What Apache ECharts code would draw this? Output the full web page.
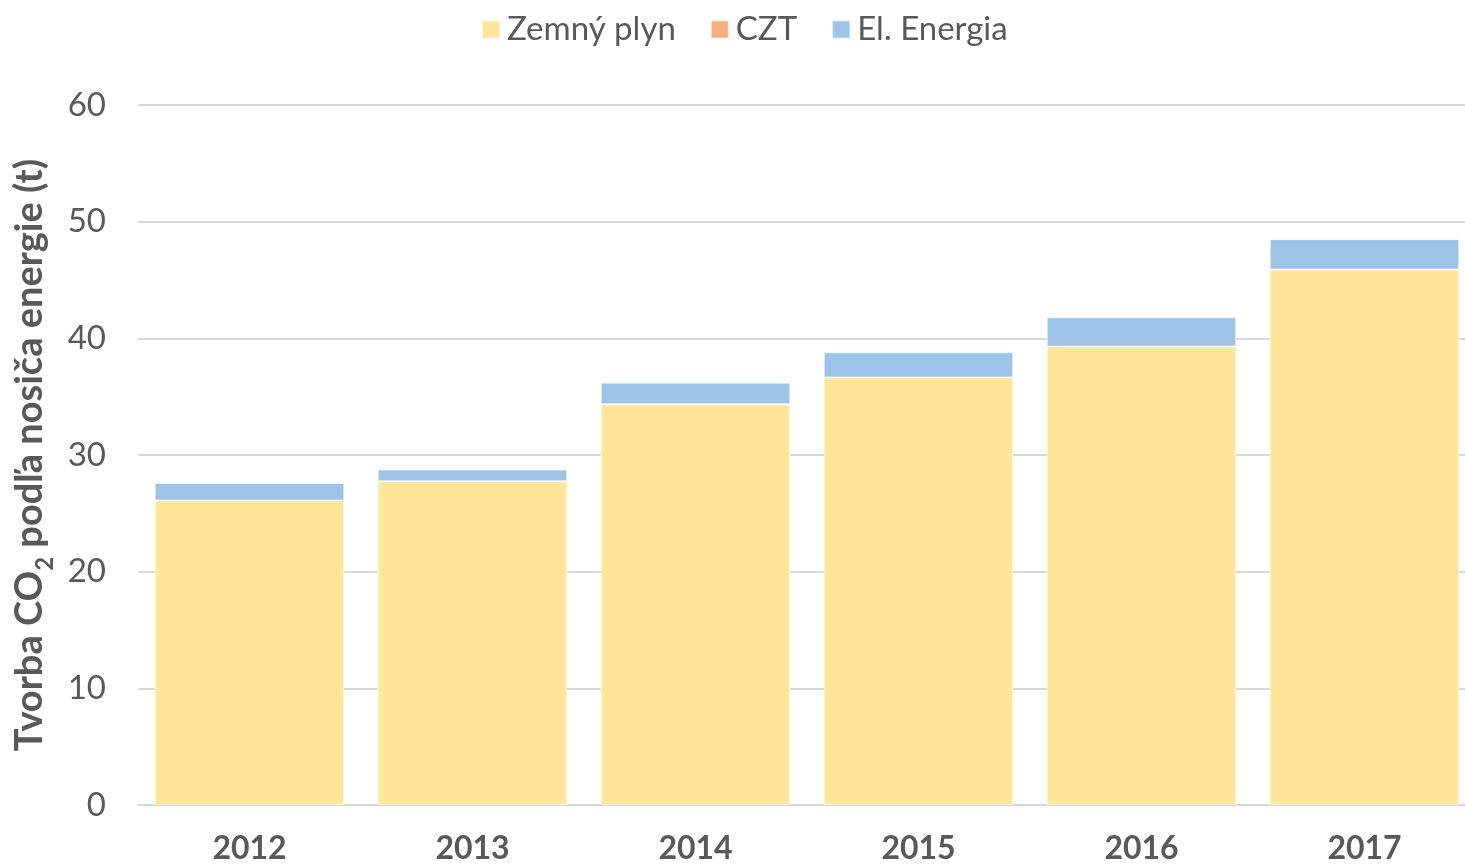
<!DOCTYPE html>
<html>
<head>
<meta charset="utf-8">
<title>Tvorba CO2</title>
<script src="https://cdn.jsdelivr.net/npm/echarts@6/dist/echarts.min.js"></script>
<style>
  html, body { margin: 0; padding: 0; background: #fff; overflow: hidden; }
  /* graf v origináli presahuje pravý okraj, preto je plátno širšie */
  #main { width: 1476px; height: 867px; }
</style>
</head>
<body>
<div id="main"></div>
<script>
// roky a hodnoty (t CO2), odčítané z grafu
var years = ['2012', '2013', '2014', '2015', '2016', '2017'];
var zemnyPlyn = [26.1, 27.75, 34.35, 36.65, 39.3, 45.9];
var czt = [0, 0, 0, 0, 0, 0];
var elEnergia = [1.5, 1.0, 1.85, 2.15, 2.5, 2.6];
var yTicks = [0, 10, 20, 30, 40, 50, 60];

var FONT = 'Lato';
var TXT = '#595959';

var chartDom = document.getElementById('main');
var myChart = echarts.init(chartDom);
var option;

function barSeries(name, data, color) {
  return {
    name: name,
    type: 'bar',
    stack: 'total',
    data: data,
    barCategoryGap: '15%',
    itemStyle: { color: color, borderColor: 'rgba(255,255,255,0.6)', borderWidth: 1 },
    emphasis: { disabled: true }
  };
}

option = {
  animation: false,
  textStyle: { fontFamily: FONT },
  legend: {
    top: 8,
    left: 476,
    itemWidth: 18,
    itemHeight: 18,
    itemGap: 34,
    icon: 'rect',
    textStyle: { fontFamily: FONT, fontSize: 33, color: TXT, padding: [0, 0, 0, 2] },
    data: ['Zemný plyn', 'CZT', 'El. Energia']
  },
  grid: { left: 138, right: 0, top: 105, bottom: 62 },
  xAxis: {
    type: 'category',
    data: years,
    axisLine: { lineStyle: { color: '#D9D9D9', width: 2 } },
    axisTick: { show: false },
    axisLabel: { margin: 28, fontFamily: FONT, fontSize: 32, fontWeight: 'bold', color: TXT }
  },
  yAxis: {
    type: 'value',
    min: yTicks[0],
    max: yTicks[yTicks.length - 1],
    interval: 10,
    name: '{a|Tvorba CO}{s|2}{a| podľa nosiča energie (t)}',
    nameLocation: 'middle',
    nameGap: 85,
    nameRotate: 90,
    nameTextStyle: {
      rich: {
        a: { fontFamily: FONT, fontSize: 38, fontWeight: 'bold', color: TXT, lineHeight: 44, verticalAlign: 'bottom' },
        s: { fontFamily: FONT, fontSize: 24, fontWeight: 'bold', color: TXT, lineHeight: 44, verticalAlign: 'bottom', padding: [0, 0, -8, 0] }
      }
    },
    axisLine: { show: false },
    axisTick: { show: false },
    axisLabel: { margin: 32, fontFamily: FONT, fontSize: 33, color: TXT },
    splitLine: { lineStyle: { color: '#D9D9D9', width: 2 } }
  },
  series: [
    barSeries('Zemný plyn', zemnyPlyn, '#FFE699'),
    barSeries('CZT', czt, '#F4B183'),
    barSeries('El. Energia', elEnergia, '#9DC3E6')
  ]
};

myChart.setOption(option);
</script>
</body>
</html>
